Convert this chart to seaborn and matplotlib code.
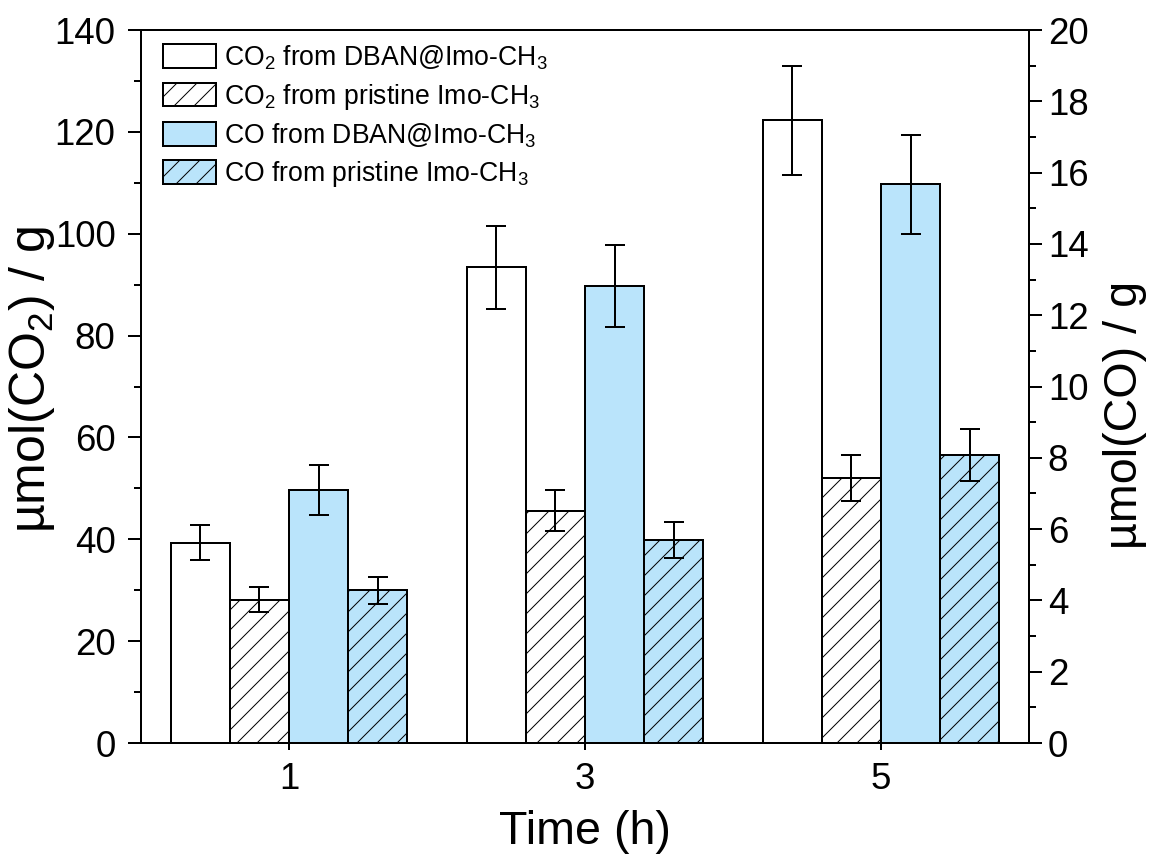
import matplotlib
matplotlib.use("Agg")
import matplotlib.pyplot as plt
import seaborn as sns
import pandas as pd
from matplotlib.patches import Patch
from matplotlib.container import BarContainer
from matplotlib.ticker import MultipleLocator

# data
times = ["1", "3", "5"]
series = ["co2_dban", "co2_pristine", "co_dban", "co_pristine"]
labels = ["CO$_2$ from DBAN@Imo-CH$_3$",
          "CO$_2$ from pristine Imo-CH$_3$",
          "CO from DBAN@Imo-CH$_3$",
          "CO from pristine Imo-CH$_3$"]

co2_dban = [39.3, 93.4, 122.3]
co2_dban_err = [3.45, 8.2, 10.7]
co2_pristine = [28.1, 45.6, 52.0]
co2_pristine_err = [2.45, 4.0, 4.5]
co_dban = [7.1, 12.82, 15.67]
co_dban_err = [0.69, 1.15, 1.39]
co_pristine = [4.29, 5.69, 8.08]
co_pristine_err = [0.38, 0.5, 0.72]

blue = "#BAE4FB"
colors = ["white", "white", blue, blue]
hatches = ["", "//", "", "//"]
palette = dict(zip(series, colors))

sns.set_style("ticks", {"axes.edgecolor": "black", "xtick.color": "black",
                        "ytick.color": "black", "text.color": "black",
                        "axes.labelcolor": "black"})
plt.rcParams["font.family"] = ["Liberation Sans", "DejaVu Sans"]
plt.rcParams["mathtext.fontset"] = "custom"
plt.rcParams["mathtext.rm"] = "Liberation Sans"
plt.rcParams["mathtext.it"] = "Liberation Sans:italic"
plt.rcParams["mathtext.bf"] = "Liberation Sans:bold"
plt.rcParams["mathtext.default"] = "rm"
plt.rcParams["hatch.linewidth"] = 0.6
plt.rcParams["hatch.color"] = "black"

LW = 1.2

df_co2 = pd.DataFrame({
    "time": times * 2,
    "series": [series[0]] * 3 + [series[1]] * 3,
    "value": co2_dban + co2_pristine,
})
df_co = pd.DataFrame({
    "time": times * 2,
    "series": [series[2]] * 3 + [series[3]] * 3,
    "value": co_dban + co_pristine,
})

fig, ax = plt.subplots(figsize=(1157 / 120, 865 / 120), dpi=120)
fig.subplots_adjust(left=0.1219, right=0.8894, bottom=0.1410, top=0.9653)
ax2 = ax.twinx()


def draw(axis, df, vals, errs, hatch_list):
    sns.barplot(data=df, x="time", y="value", hue="series", hue_order=series,
                order=times, palette=palette, width=0.8, errorbar=None,
                saturation=1, edgecolor="black", linewidth=LW, legend=False,
                ax=axis)
    conts = [c for c in axis.containers if isinstance(c, BarContainer) and len(c) > 0]
    for cont, v, e, h in zip(conts, vals, errs, hatch_list):
        for bar in cont:
            bar.set_hatch(h)
        xs = [b.get_x() + b.get_width() / 2 for b in cont]
        axis.errorbar(xs, v, yerr=e, fmt="none", ecolor="black",
                      elinewidth=LW, capsize=6, capthick=LW, zorder=5)


draw(ax, df_co2, [co2_dban, co2_pristine], [co2_dban_err, co2_pristine_err], hatches[:2])
draw(ax2, df_co, [co_dban, co_pristine], [co_dban_err, co_pristine_err], hatches[2:])

ax.set_xlim(-0.5, 2.5)
ax.set_ylim(0, 140)
ax2.set_ylim(0, 20)
ax.yaxis.set_major_locator(MultipleLocator(20))
ax.yaxis.set_minor_locator(MultipleLocator(10))
ax2.yaxis.set_major_locator(MultipleLocator(2))
ax2.yaxis.set_minor_locator(MultipleLocator(1))

ax.tick_params(axis="y", which="major", direction="out", length=7.8, width=LW,
               labelsize=22, pad=7.5)
ax.tick_params(axis="y", which="minor", direction="out", length=4.2, width=LW)
ax2.tick_params(axis="y", which="major", direction="out", length=7.8, width=LW,
                labelsize=22, pad=3.5)
ax2.tick_params(axis="y", which="minor", direction="out", length=4.2, width=LW)
ax.tick_params(axis="x", which="major", direction="out", length=4.2, width=LW,
               labelsize=22, pad=7)

for a in (ax, ax2):
    for sp in a.spines.values():
        sp.set_linewidth(LW)
        sp.set_color("black")

ax.set_xlabel("Time (h)", fontsize=28, labelpad=8)
ax.set_ylabel("µmol(CO$_2$) / g", fontsize=30)
ax2.set_ylabel("µmol(CO) / g", fontsize=28)
ax.yaxis.set_label_coords(-0.0946, 0.51)
ax2.yaxis.set_label_coords(1.0833, 0.46)

handles = [Patch(facecolor=c, edgecolor="black", hatch=h, linewidth=LW)
           for c, h in zip(colors, hatches)]
ax2.legend(handles, labels, loc="upper left", bbox_to_anchor=(0.0248, 0.981),
           frameon=False, fontsize=16, borderpad=0, handlelength=2.0,
           handleheight=1.0, labelspacing=0.36, handletextpad=0.3,
           borderaxespad=0)

fig.savefig("out.png", dpi=120)
